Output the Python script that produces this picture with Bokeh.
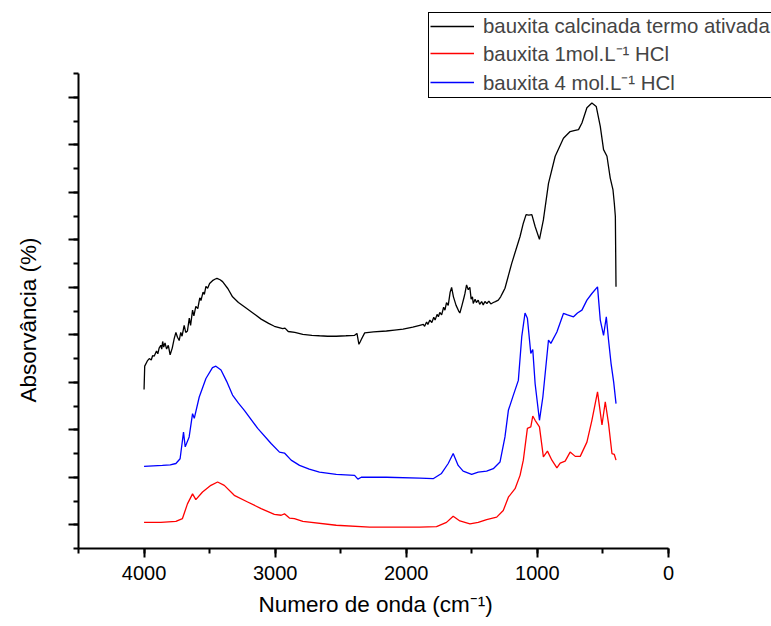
from bokeh.plotting import figure
from bokeh.models import (Range1d, SingleIntervalTicker, CustomJSTickFormatter,
                          Legend, LegendItem, Title)
from bokeh.embed import file_html
from bokeh.resources import INLINE

# ---------------- data ----------------
# wavenumber (cm-1) and absorbance (arbitrary, offset units)
calc_x = [4000, 3995, 3975, 3960, 3945, 3935, 3923, 3905, 3895, 3885, 3872, 3865,
          3858, 3850, 3840, 3828, 3815, 3801, 3785, 3770, 3757, 3745, 3732, 3720,
          3710, 3694, 3682, 3669, 3655, 3645, 3630, 3620, 3605, 3590, 3575, 3566,
          3550, 3540, 3528, 3515, 3500, 3478, 3460, 3444, 3420, 3401, 3360, 3325,
          3280, 3235, 3170, 3107, 3050, 3006, 2942, 2925, 2900, 2850, 2789, 2720,
          2662, 2600, 2534, 2460, 2394, 2376, 2361, 2350, 2343, 2317, 2250, 2151,
          2090, 2024, 1950, 1897, 1870, 1860, 1845, 1835, 1820, 1805, 1790, 1780,
          1765, 1755, 1744, 1730, 1715, 1705, 1693, 1680, 1665, 1654, 1640, 1620,
          1600, 1591, 1575, 1560, 1553, 1540, 1527, 1515, 1505, 1495, 1489, 1475,
          1465, 1451, 1440, 1425, 1413, 1400, 1385, 1370, 1355, 1336, 1320, 1298,
          1280, 1260, 1247, 1195, 1132, 1107, 1086, 1065, 1042, 1017, 984, 954,
          915, 864, 801, 750, 720, 686, 660, 622, 584, 551, 520, 495, 469, 444,
          423, 413, 405, 400]
calc_y = [3.85, 4.34, 4.45, 4.50, 4.47, 4.56, 4.55, 4.66, 4.60, 4.72, 4.78, 4.70,
          4.86, 4.74, 4.83, 4.70, 4.78, 4.58, 4.72, 4.92, 5.05, 4.95, 4.88, 5.05,
          4.97, 5.20, 5.05, 5.08, 5.35, 5.20, 5.52, 5.40, 5.60, 5.55, 5.78, 5.72,
          5.90, 5.85, 6.02, 5.98, 6.08, 6.14, 6.17, 6.19, 6.16, 6.12, 5.97, 5.80,
          5.68, 5.59, 5.46, 5.33, 5.24, 5.18, 5.13, 5.14, 5.07, 5.05, 5.01, 4.99,
          4.98, 4.97, 4.97, 4.98, 4.99, 5.03, 4.80, 4.86, 4.90, 5.04, 5.06, 5.08,
          5.10, 5.12, 5.16, 5.20, 5.22, 5.18, 5.27, 5.22, 5.31, 5.26, 5.37, 5.31,
          5.43, 5.38, 5.47, 5.42, 5.58, 5.52, 5.68, 5.62, 5.90, 6.00, 5.80, 5.62,
          5.50, 5.46, 5.62, 5.78, 5.86, 6.05, 5.95, 6.00, 5.75, 5.80, 5.66, 5.75,
          5.68, 5.73, 5.64, 5.70, 5.63, 5.70, 5.66, 5.71, 5.65, 5.68, 5.70, 5.73,
          5.80, 5.91, 5.98, 6.51, 7.07, 7.35, 7.53, 7.52, 7.53, 7.28, 7.01, 7.42,
          8.19, 8.76, 9.14, 9.28, 9.30, 9.32, 9.46, 9.78, 9.88, 9.81, 9.39, 8.90,
          8.76, 8.30, 8.05, 7.77, 7.49, 6.01]

hcl4_x = [4000, 3930, 3860, 3800, 3757, 3725, 3699, 3686, 3656, 3630, 3617, 3579,
          3528, 3478, 3452, 3413, 3370, 3325, 3280, 3235, 3133, 3031, 2967, 2929,
          2878, 2814, 2740, 2662, 2534, 2394, 2369, 2343, 2151, 1897, 1795, 1731,
          1680, 1642, 1604, 1566, 1501, 1451, 1387, 1336, 1285, 1247, 1221, 1183,
          1145, 1119, 1094, 1076, 1050, 1035, 1017, 984, 958, 915, 897, 851, 801,
          770, 724, 694, 660, 622, 584, 541, 520, 495, 474, 457, 438, 418, 400]
hcl4_y = [2.23, 2.24, 2.25, 2.26, 2.29, 2.39, 2.95, 2.64, 2.85, 3.34, 3.24, 3.69,
          4.08, 4.31, 4.34, 4.26, 4.02, 3.73, 3.56, 3.41, 3.03, 2.71, 2.53, 2.51,
          2.36, 2.25, 2.17, 2.11, 2.06, 2.04, 1.96, 2.00, 2.00, 1.98, 1.97, 2.08,
          2.29, 2.50, 2.25, 2.13, 2.06, 2.11, 2.13, 2.18, 2.32, 2.85, 3.41, 3.73,
          4.04, 4.96, 5.46, 5.35, 4.61, 4.69, 3.97, 3.20, 3.69, 4.89, 4.82, 5.06,
          5.45, 5.42, 5.38, 5.46, 5.52, 5.73, 5.87, 6.01, 5.31, 4.99, 5.38, 4.89,
          4.40, 4.01, 3.55]

hcl1_x = [4000, 3872, 3757, 3707, 3669, 3630, 3605, 3554, 3490, 3439, 3388, 3312,
          3210, 3107, 3006, 2954, 2929, 2891, 2853, 2789, 2534, 2279, 1897, 1769,
          1693, 1642, 1591, 1514, 1451, 1387, 1310, 1260, 1221, 1170, 1132, 1107,
          1076, 1050, 1035, 1017, 984, 954, 923, 889, 851, 826, 788, 750, 711,
          673, 622, 584, 541, 507, 482, 457, 431, 413, 400]
hcl1_y = [1.05, 1.05, 1.07, 1.13, 1.44, 1.65, 1.53, 1.69, 1.83, 1.90, 1.83, 1.62,
          1.48, 1.34, 1.22, 1.20, 1.23, 1.14, 1.13, 1.07, 0.99, 0.95, 0.95, 0.96,
          1.05, 1.18, 1.08, 1.02, 1.05, 1.11, 1.16, 1.30, 1.58, 1.76, 2.04, 2.36,
          3.03, 3.06, 3.29, 3.20, 3.06, 2.43, 2.55, 2.36, 2.20, 2.30, 2.34, 2.53,
          2.44, 2.44, 2.74, 3.20, 3.80, 3.10, 3.59, 3.13, 2.50, 2.48, 2.36]

series_labels = ["bauxita calcinada termo ativada",
                 "bauxita 1mol.L\u207b\u00b9 HCl",
                 "bauxita 4 mol.L\u207b\u00b9 HCl"]
x_title = "Numero de onda (cm\u207b\u00b9)"
y_title = "Absorvância (%)"

# axis extents (the drawn axes) and the wider view that leaves room for the legend
x_axis_bounds = (0, 4500)
y_axis_bounds = (0.5, 10.5)

FONT = "Liberation Sans"

p = figure(width=771, height=626, output_backend="svg", toolbar_location=None,
           x_range=Range1d(4500, -786), y_range=Range1d(0.5, 12.04),
           min_border_left=78, min_border_right=0, min_border_top=0,
           min_border_bottom=78)
p.outline_line_color = None
p.grid.visible = False
p.background_fill_color = "white"
p.border_fill_color = "white"

r_calc = p.line(calc_x, calc_y, line_color="black", line_width=1.3)
r_1 = p.line(hcl1_x, hcl1_y, line_color="#ff0000", line_width=1.3)
r_4 = p.line(hcl4_x, hcl4_y, line_color="#0000ff", line_width=1.3)

# axes
xa = p.xaxis[0]
xa.bounds = x_axis_bounds
xa.ticker = SingleIntervalTicker(interval=1000, num_minor_ticks=2)
xa.major_label_text_font = FONT
xa.major_label_text_font_size = "20px"
xa.major_label_standoff = 8
xa.major_tick_out = 9
xa.major_tick_in = 0
xa.minor_tick_out = 5
xa.minor_tick_in = 0

ya = p.yaxis[0]
ya.bounds = y_axis_bounds
ya.ticker = SingleIntervalTicker(interval=1, num_minor_ticks=2)
# unlabelled ticks (blank labels keep the gap between axis and its title)
ya.formatter = CustomJSTickFormatter(code="return '\\u00a0\\u00a0\\u00a0\\u00a0'")
ya.major_label_text_font = FONT
ya.major_label_text_font_size = "20px"
ya.major_label_standoff = 3
ya.major_tick_out = 10
ya.major_tick_in = 0
ya.minor_tick_out = 5
ya.minor_tick_in = 0

for ax in (xa, ya):
    ax.axis_line_width = 2
    ax.major_tick_line_width = 2
    ax.minor_tick_line_width = 2
    ax.axis_line_color = "black"
    ax.major_tick_line_color = "black"
    ax.minor_tick_line_color = "black"
    ax.major_label_text_color = "black"

# axis titles centred on the drawn axes
xt = Title(text=x_title, align="left", offset=180, standoff=14,
           text_font=FONT, text_font_size="22.5px", text_font_style="normal",
           text_color="black")
p.add_layout(xt, "below")
yt = Title(text=y_title, align="left", offset=146, standoff=0,
           text_font=FONT, text_font_size="22.5px", text_font_style="normal",
           text_color="black")
p.add_layout(yt, "left")

legend = Legend(items=[LegendItem(label=series_labels[0], renderers=[r_calc]),
                       LegendItem(label=series_labels[1], renderers=[r_1]),
                       LegendItem(label=series_labels[2], renderers=[r_4])],
                location=(350, 450))
legend.margin = 0
legend.padding = 1
legend.spacing = 1
legend.label_height = 24
legend.glyph_height = 24
legend.glyph_width = 44
legend.label_standoff = 9
legend.label_text_font = FONT
legend.label_text_font_size = "20.4px"
legend.border_line_color = "black"
legend.border_line_width = 1
legend.border_line_alpha = 1
legend.background_fill_color = "white"
legend.background_fill_alpha = 1
p.add_layout(legend)

open("out.html", "w").write(file_html(p, INLINE))
